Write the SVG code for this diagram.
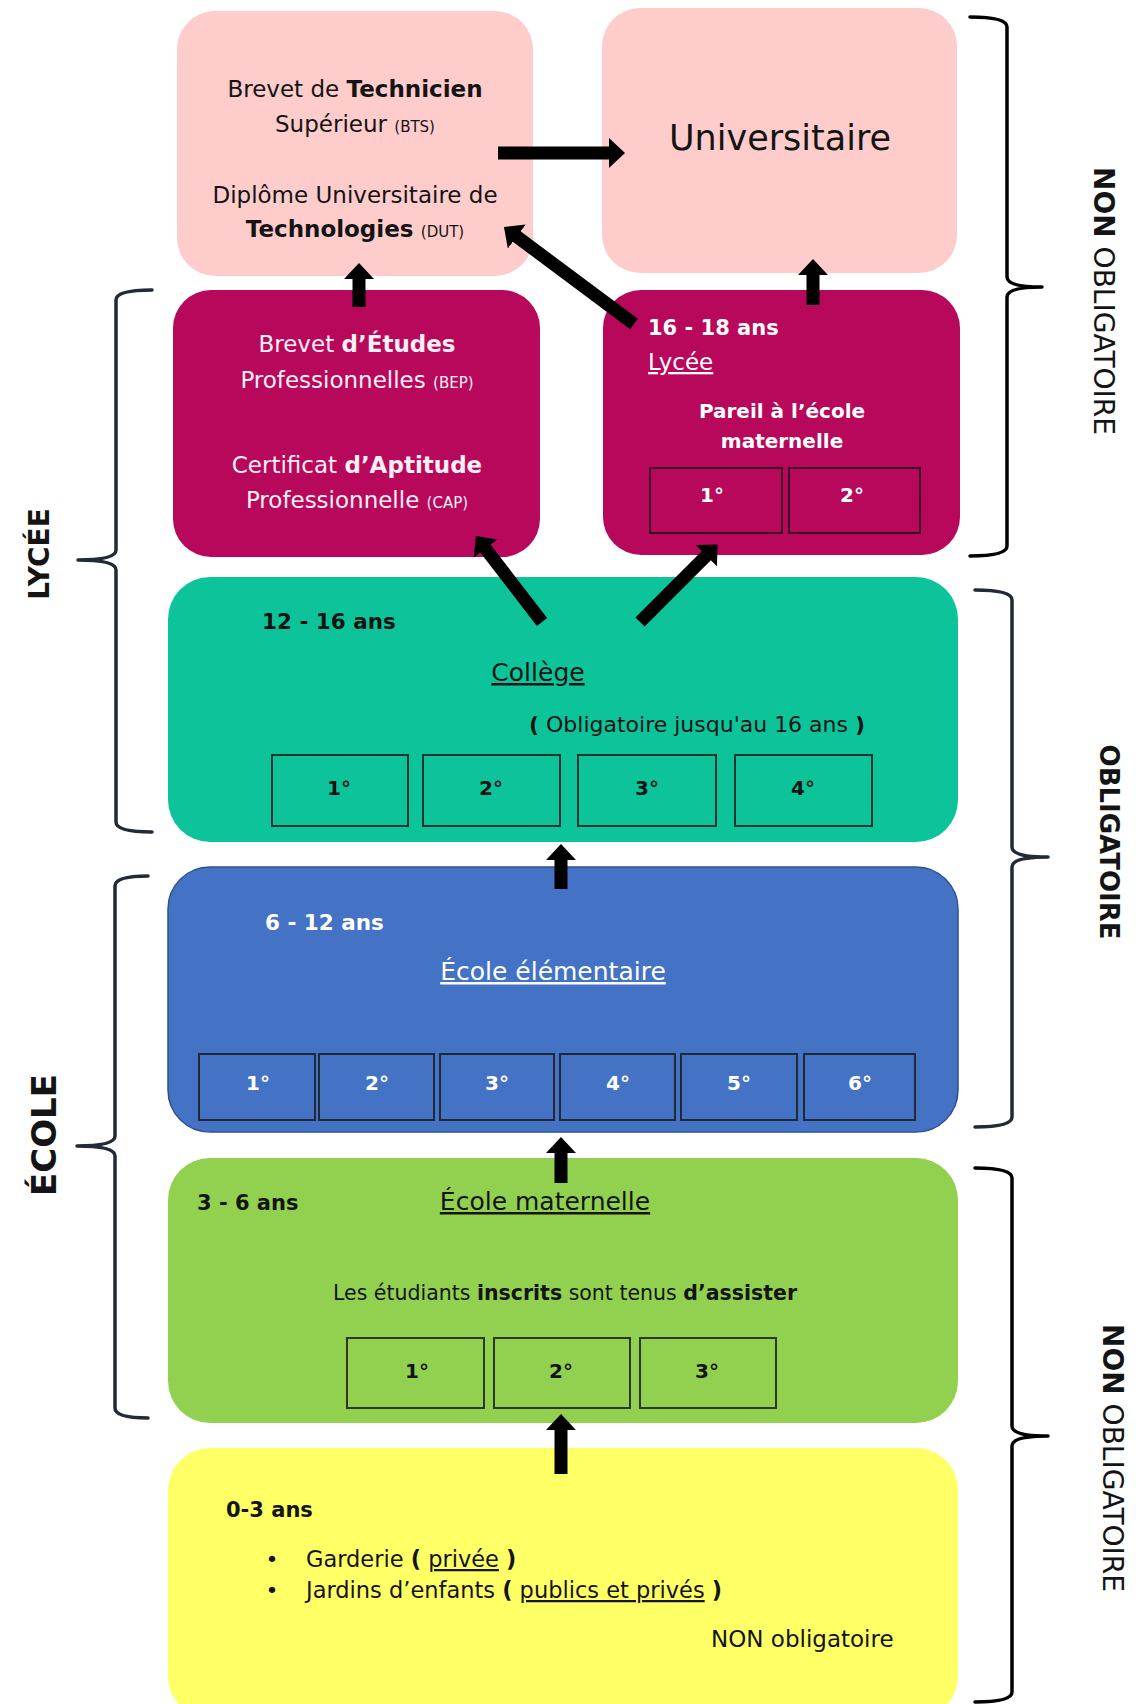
<svg xmlns="http://www.w3.org/2000/svg" width="1136" height="1704" viewBox="0 0 1136 1704">
<defs>
<style>
text { font-family: "DejaVu Sans", "Liberation Sans", sans-serif; }
.b { font-weight: bold; }
.sm { font-size: 15px; }
.cell { fill: none; stroke: #1c1c1c; stroke-width: 2; stroke-opacity: 0.85; }
.cellw { fill: none; stroke: #3a0820; stroke-width: 2; }
.arrow { stroke: #000; stroke-width: 13; fill: none; marker-end: url(#ah); }
.brace { fill: none; stroke-width: 3.5; stroke-linecap: round; stroke-linejoin: round; }
.dark { fill: #141414; }
.white { fill: #ffffff; }
.lbl { font-size: 20px; font-weight: bold; text-anchor: middle; }
</style>
<marker id="ah" viewBox="0 0 16 30" markerWidth="16" markerHeight="30" refX="1" refY="15" orient="auto" markerUnits="userSpaceOnUse">
<path d="M0,0 L16,15 L0,30 Z" fill="#000"/>
</marker>
</defs>
<rect width="1136" height="1704" fill="#ffffff"/>

<g id="bts">
<rect x="177" y="11" width="356" height="265" rx="38" fill="#FFCCCC"/>
<text x="355" y="97" text-anchor="middle" font-size="23" class="dark">Brevet de <tspan class="b">Technicien</tspan></text>
<text x="355" y="132" text-anchor="middle" font-size="23" class="dark">Supérieur <tspan class="sm">(BTS)</tspan></text>
<text x="355" y="203" text-anchor="middle" font-size="23" class="dark">Diplôme Universitaire de</text>
<text x="355" y="237" text-anchor="middle" font-size="23" class="dark"><tspan class="b">Technologies</tspan> <tspan class="sm">(DUT)</tspan></text>
</g>

<g id="universitaire">
<rect x="602" y="8" width="355" height="265" rx="38" fill="#FFCCCC"/>
<text x="780" y="150" text-anchor="middle" font-size="35" class="dark">Universitaire</text>
</g>

<g id="bep-cap">
<rect x="173" y="290" width="367" height="267" rx="38" fill="#B7085B"/>
<text x="357" y="352" text-anchor="middle" font-size="23" fill="#FFEFF5">Brevet <tspan class="b">d’Études</tspan></text>
<text x="357" y="388" text-anchor="middle" font-size="23" fill="#FFEFF5">Professionnelles <tspan class="sm">(BEP)</tspan></text>
<text x="357" y="473" text-anchor="middle" font-size="23" fill="#FFEFF5">Certificat <tspan class="b">d’Aptitude</tspan></text>
<text x="357" y="508" text-anchor="middle" font-size="23" fill="#FFEFF5">Professionnelle <tspan class="sm">(CAP)</tspan></text>
</g>

<g id="lycee">
<rect x="603" y="290" width="357" height="265" rx="38" fill="#B7085B"/>
<text x="648" y="335" font-size="21" class="b white">16 - 18 ans</text>
<text x="648" y="370" font-size="23" class="white" text-decoration="underline">Lycée</text>
<text x="782" y="418" font-size="20" text-anchor="middle" class="b white">Pareil à l’école</text>
<text x="782" y="448" font-size="20" text-anchor="middle" class="b white">maternelle</text>
<rect x="650" y="468" width="132" height="65" class="cellw"/>
<rect x="789" y="468" width="131" height="65" class="cellw"/>
<text x="712" y="502" class="lbl white">1°</text>
<text x="852" y="502" class="lbl white">2°</text>
</g>

<g id="college">
<rect x="168" y="577" width="790" height="265" rx="42" fill="#0DC49A"/>
<text x="262" y="629" font-size="21.5" class="b dark">12 - 16 ans</text>
<text x="538" y="681" font-size="25" text-anchor="middle" class="dark" text-decoration="underline">Collège</text>
<text x="697" y="732" font-size="22" text-anchor="middle" class="dark"><tspan class="b">(</tspan> Obligatoire jusqu'au 16 ans <tspan class="b">)</tspan></text>
<rect x="272" y="755" width="136" height="71" class="cell"/>
<rect x="423" y="755" width="137" height="71" class="cell"/>
<rect x="578" y="755" width="138" height="71" class="cell"/>
<rect x="735" y="755" width="137" height="71" class="cell"/>
<text x="339" y="795" class="lbl dark">1°</text>
<text x="491" y="795" class="lbl dark">2°</text>
<text x="647" y="795" class="lbl dark">3°</text>
<text x="803" y="795" class="lbl dark">4°</text>
</g>

<g id="ecole-elementaire">
<rect x="168" y="867" width="790" height="265" rx="42" fill="#4472C4" stroke="#2F528F" stroke-width="1.5"/>
<text x="265" y="930" font-size="21.5" class="b white">6 - 12 ans</text>
<text x="553" y="980" font-size="25" text-anchor="middle" class="white" text-decoration="underline">École élémentaire</text>
<rect x="199" y="1054" width="116" height="66" class="cell"/>
<rect x="319" y="1054" width="115" height="66" class="cell"/>
<rect x="440" y="1054" width="114" height="66" class="cell"/>
<rect x="560" y="1054" width="115" height="66" class="cell"/>
<rect x="681" y="1054" width="116" height="66" class="cell"/>
<rect x="804" y="1054" width="111" height="66" class="cell"/>
<text x="258" y="1090" class="lbl white">1°</text>
<text x="377" y="1090" class="lbl white">2°</text>
<text x="497" y="1090" class="lbl white">3°</text>
<text x="618" y="1090" class="lbl white">4°</text>
<text x="739" y="1090" class="lbl white">5°</text>
<text x="860" y="1090" class="lbl white">6°</text>
</g>

<g id="ecole-maternelle">
<rect x="168" y="1158" width="790" height="265" rx="42" fill="#92D050"/>
<text x="197" y="1210" font-size="21" class="b dark">3 - 6 ans</text>
<text x="545" y="1210" font-size="25" text-anchor="middle" class="dark" text-decoration="underline">École maternelle</text>
<text x="565" y="1300" font-size="20.5" text-anchor="middle" class="dark">Les étudiants <tspan class="b">inscrits</tspan> sont tenus <tspan class="b">d’assister</tspan></text>
<rect x="347" y="1338" width="137" height="70" class="cell"/>
<rect x="494" y="1338" width="136" height="70" class="cell"/>
<rect x="640" y="1338" width="136" height="70" class="cell"/>
<text x="417" y="1378" class="lbl dark">1°</text>
<text x="561" y="1378" class="lbl dark">2°</text>
<text x="707" y="1378" class="lbl dark">3°</text>
</g>

<g id="creche">
<rect x="168" y="1448" width="790" height="270" rx="42" fill="#FFFF66"/>
<text x="226" y="1517" font-size="21" class="b dark">0-3 ans</text>
<text x="272" y="1567" font-size="22" text-anchor="middle" class="dark">•</text>
<text x="306" y="1567" font-size="22.5" class="dark">Garderie <tspan class="b">(</tspan> <tspan text-decoration="underline">privée</tspan> <tspan class="b">)</tspan></text>
<text x="272" y="1598" font-size="22" text-anchor="middle" class="dark">•</text>
<text x="306" y="1598" font-size="22.5" class="dark">Jardins d’enfants <tspan class="b">(</tspan> <tspan text-decoration="underline">publics et privés</tspan> <tspan class="b">)</tspan></text>
<text x="711" y="1647" font-size="23" class="dark">NON obligatoire</text>
</g>

<g id="connectors">
<line x1="498" y1="153" x2="610" y2="153" class="arrow"/>
<line x1="634" y1="324" x2="516" y2="236" class="arrow"/>
<line x1="359" y1="307" x2="359" y2="278" class="arrow"/>
<line x1="813" y1="305" x2="813" y2="274" class="arrow"/>
<line x1="542" y1="622" x2="485" y2="548" class="arrow"/>
<line x1="640" y1="622" x2="707" y2="555" class="arrow"/>
<line x1="561" y1="889" x2="561" y2="859" class="arrow"/>
<line x1="561" y1="1183" x2="561" y2="1152" class="arrow"/>
<line x1="561" y1="1474" x2="561" y2="1429" class="arrow"/>
</g>

<g id="brace-lycee">
<path class="brace" stroke="#222A35" d="M152,290 Q116,290 116,300 L116,550 Q116,560 78,560 Q116,560 116,570 L116,822 Q116,832 152,832"/>
<text transform="translate(49,554) rotate(-90)" text-anchor="middle" font-size="28" class="b dark">LYCÉE</text>
</g>

<g id="brace-ecole">
<path class="brace" stroke="#222A35" d="M148,876 Q115,876 115,886 L115,1136 Q115,1146 77,1146 Q115,1146 115,1156 L115,1408 Q115,1418 148,1418"/>
<text transform="translate(56,1135) rotate(-90)" text-anchor="middle" font-size="34" class="b dark">ÉCOLE</text>
</g>

<g id="brace-non-obligatoire-haut">
<path class="brace" stroke="#000" d="M970,17 Q1007,17 1007,27 L1007,277 Q1007,287 1042,287 Q1007,287 1007,297 L1007,546 Q1007,556 970,556"/>
<text transform="translate(1094,301) rotate(90)" text-anchor="middle" font-size="28" class="dark"><tspan class="b">NON</tspan> OBLIGATOIRE</text>
</g>

<g id="brace-obligatoire">
<path class="brace" stroke="#222A35" d="M975,590 Q1012,590 1012,600 L1012,847 Q1012,857 1048,857 Q1012,857 1012,867 L1012,1117 Q1012,1127 975,1127"/>
<text transform="translate(1100,842) rotate(90)" text-anchor="middle" font-size="26" class="b dark">OBLIGATOIRE</text>
</g>

<g id="brace-non-obligatoire-bas">
<path class="brace" stroke="#000" d="M975,1168 Q1012,1168 1012,1178 L1012,1426 Q1012,1436 1048,1436 Q1012,1436 1012,1446 L1012,1692 Q1012,1702 975,1702"/>
<text transform="translate(1103,1458) rotate(90)" text-anchor="middle" font-size="28" class="dark"><tspan class="b">NON</tspan> OBLIGATOIRE</text>
</g>
</svg>
